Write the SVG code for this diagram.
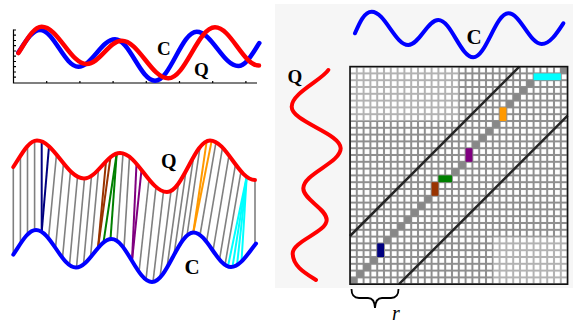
<svg xmlns="http://www.w3.org/2000/svg" width="574" height="325" viewBox="0 0 574 325">
<style>
.lbl{font-family:"Liberation Serif","Times New Roman",serif;font-weight:bold;fill:#000}
.red{fill:none;stroke:#ff0000;stroke-linecap:round;stroke-linejoin:round}
.blue{fill:none;stroke:#0000ff;stroke-linecap:round;stroke-linejoin:round}
.g{stroke:#808080;stroke-width:1.6}
.cl{stroke-width:2}
.cell{fill:#888}
</style>
<defs>
<pattern id="gd" x="350" y="66.6" width="6.8" height="6.8" patternUnits="userSpaceOnUse"><rect width="6.8" height="6.8" fill="#8e8e8e"/><rect x="1" y="1" width="4.8" height="4.8" fill="#fff"/></pattern>
<pattern id="gl" x="350" y="66.6" width="6.8" height="6.8" patternUnits="userSpaceOnUse"><rect width="6.8" height="6.8" fill="#b2b2b2"/><rect x="1" y="1" width="4.8" height="4.8" fill="#fff"/></pattern>
</defs>
<rect width="574" height="325" fill="#fff"/>

<g id="overlay-plot">
<g stroke="#000" stroke-width="1.2" fill="none">
<path d="M13.5,29.5 V83 H257"/>
<path d="M13.5,30H16M13.5,35.2H16M13.5,40.5H16M13.5,45.7H16M13.5,51H16M13.5,56.2H16M13.5,61.5H16M13.5,66.7H16M13.5,72H16M13.5,77.2H16"/>
<path d="M46.7,83V81M79.9,83V81M113.1,83V81M146.3,83V81M179.5,83V81M212.7,83V81M245.9,83V81"/>
</g>
<path class="blue" stroke-width="4.5" d="M18.3,52.6 C25.2,42.2 32,30 40,30 C53.9,30 64.4,66.7 78.3,66.7 C91.7,66.7 101.6,39.3 115,39.3 C129.6,39.3 140.4,80.7 155,80.7 C170.2,80.7 181.5,31.7 196.7,31.7 C211.8,31.7 223.2,66 238.3,66 C246,66 252.5,53.4 259.3,43.1"/>
<path class="red" stroke-width="4.5" d="M18.4,53.1 C25.9,41.6 33.1,26.7 41.7,26.7 C58.1,26.7 70.3,64 86.7,64 C99.4,64 109,40.7 121.7,40.7 C138.7,40.7 151.3,78.3 168.3,78.3 C185.3,78.3 198,27.3 215,27.3 C231,27.3 243,65.5 259,65.5"/>
<text class="lbl" x="157" y="55" font-size="19">C</text>
<text class="lbl" x="194" y="76" font-size="19">Q</text>
</g>

<g id="alignment">
<g id="connectors">
<g class="g">
<line x1="13.3" y1="254.7" x2="13.3" y2="167.1"/>
<line x1="20.4" y1="243.8" x2="20.4" y2="155.9"/>
<line x1="27.5" y1="234.5" x2="27.5" y2="146.1"/>
<line x1="34.6" y1="230.1" x2="34.6" y2="140.9"/>
<line x1="48.5" y1="238.3" x2="56.5" y2="154.5"/>
<line x1="55.5" y1="248" x2="63.5" y2="163.3"/>
<line x1="62.5" y1="257.9" x2="70.5" y2="171.3"/>
<line x1="69.5" y1="265.1" x2="77.5" y2="176.8"/>
<line x1="76.5" y1="267.5" x2="84.5" y2="178.5"/>
<line x1="83.5" y1="264.5" x2="91.5" y2="175.9"/>
<line x1="90.5" y1="257.3" x2="98.5" y2="169.6"/>
<line x1="117" y1="240.9" x2="123" y2="153.4"/>
<line x1="124" y1="248.4" x2="129.5" y2="156.8"/>
<line x1="139" y1="272" x2="149" y2="179.5"/>
<line x1="146" y1="279.7" x2="156" y2="186.9"/>
<line x1="153" y1="281.9" x2="163.5" y2="191.5"/>
<line x1="160" y1="277.6" x2="171" y2="190.9"/>
<line x1="167" y1="267.7" x2="178.5" y2="183.4"/>
<line x1="174" y1="254.9" x2="186" y2="170.9"/>
<line x1="181" y1="242.7" x2="193.5" y2="157.1"/>
<line x1="187" y1="235.5" x2="200" y2="147.2"/>
<line x1="200" y1="235" x2="216" y2="142.2"/>
<line x1="206.5" y1="241.8" x2="222.5" y2="147.6"/>
<line x1="213" y1="250.8" x2="229" y2="155.4"/>
<line x1="219.5" y1="259.6" x2="235.5" y2="164.4"/>
<line x1="225" y1="264.9" x2="241" y2="171.3"/>
<line x1="255" y1="244.7" x2="255" y2="180"/>
</g>
<g class="cl" stroke="#000080"><line x1="41.7" y1="231.8" x2="41.7" y2="141.4"/><line x1="41.7" y1="231.8" x2="49" y2="146.3"/></g>
<g class="cl" stroke="#993300"><line x1="98" y1="248" x2="106" y2="161.4"/><line x1="98" y1="248" x2="110.5" y2="157.1"/></g>
<g class="cl" stroke="#008000"><line x1="103.5" y1="242.4" x2="116.7" y2="153.5"/><line x1="110.5" y1="239.1" x2="116.7" y2="153.5"/></g>
<g class="cl" stroke="#800080"><line x1="132" y1="260.9" x2="136.5" y2="163.7"/><line x1="132" y1="260.9" x2="141.5" y2="169.9"/></g>
<g class="cl" stroke="#ff9900"><line x1="193.3" y1="232.5" x2="206.7" y2="141.2"/><line x1="193.3" y1="232.5" x2="211.7" y2="140.6"/></g>
<g class="cl" stroke="#00ffff"><line x1="228" y1="266.3" x2="246.7" y2="176.7"/><line x1="232.5" y1="266.9" x2="246.7" y2="176.7"/><line x1="237" y1="265.1" x2="246.7" y2="176.7"/><line x1="241.5" y1="261.5" x2="246.7" y2="176.7"/></g>
</g>
<path id="q-mid" class="red" stroke-width="4" d="M13.3,167 C21,155.5 28.3,140.5 37,140.5 C54.1,140.5 66.9,178.5 84,178.5 C97.1,178.5 106.9,153 120,153 C137.1,153 149.9,192 167,192 C182.7,192 194.3,140.5 210,140.5 C226.4,140.5 238.6,180 255,180"/>
<path id="c-mid" class="blue" stroke-width="4" d="M13.3,254.6 C20.7,243.7 27.7,230 36,230 C50.6,230 61.4,267.5 76,267.5 C88.9,267.5 98.6,239 111.5,239 C126.2,239 137.3,282 152,282 C167.1,282 178.4,232.5 193.5,232.5 C207.2,232.5 217.3,267 231,267 C240.2,267 247.9,253.5 256,243.5"/>
<text class="lbl" x="161" y="168" font-size="20">Q</text>
<text class="lbl" x="184.5" y="273.5" font-size="21">C</text>
</g>

<g id="matrix-panel">
<rect x="275" y="4" width="298" height="284" fill="#f6f6f6"/>
<path id="c-top" class="blue" stroke-width="4" d="M355,33.3 C359,24 364,11.7 371.7,11.7 C385,11.7 395,45 408.3,45 C419.2,45 427.4,20 438.3,20 C451,20 460.6,57.3 473.3,57.3 C486,57.3 495.6,13.3 508.3,13.3 C520.5,13.3 529.5,44 541.7,44 C550,44 557,33 563.3,23.3"/>
<path id="q-left" class="red" stroke-width="4" d="M328.3,70 C322,80 291.7,93 291.7,106.7 C291.7,121.8 340.7,133.2 340.7,148.3 C340.7,162.9 303.3,173.7 303.3,188.3 C303.3,199.8 326.7,208.5 326.7,220 C326.7,232.1 292.7,241.2 292.7,253.3 C292.7,266 305,273 316,280"/>
<text class="lbl" x="466.5" y="43.5" font-size="21">C</text>
<text class="lbl" x="287.5" y="83" font-size="19">Q</text>
<g id="grid">
<rect x="350" y="66.6" width="217.6" height="217.6" fill="url(#gd)"/>
<rect x="350" y="66.6" width="108.8" height="54.4" fill="url(#gl)"/>
<rect x="492.8" y="236.6" width="74.8" height="47.6" fill="url(#gl)"/>
<g class="cell">
<rect x="350" y="277.4" width="6.8" height="6.8"/>
<rect x="356.8" y="270.6" width="6.8" height="6.8"/>
<rect x="363.6" y="263.8" width="6.8" height="6.8"/>
<rect x="370.4" y="257" width="6.8" height="6.8"/>
<rect x="384" y="236.6" width="6.8" height="6.8"/>
<rect x="390.8" y="229.8" width="6.8" height="6.8"/>
<rect x="397.6" y="223" width="6.8" height="6.8"/>
<rect x="404.4" y="216.2" width="6.8" height="6.8"/>
<rect x="411.2" y="209.4" width="6.8" height="6.8"/>
<rect x="418" y="202.6" width="6.8" height="6.8"/>
<rect x="424.8" y="195.8" width="6.8" height="6.8"/>
<rect x="452" y="168.6" width="6.8" height="6.8"/>
<rect x="458.8" y="161.8" width="6.8" height="6.8"/>
<rect x="472.4" y="141.4" width="6.8" height="6.8"/>
<rect x="479.2" y="134.6" width="6.8" height="6.8"/>
<rect x="486" y="127.8" width="6.8" height="6.8"/>
<rect x="492.8" y="121" width="6.8" height="6.8"/>
<rect x="506.4" y="100.6" width="6.8" height="6.8"/>
<rect x="513.2" y="93.8" width="6.8" height="6.8"/>
<rect x="520" y="87" width="6.8" height="6.8"/>
<rect x="526.8" y="80.2" width="6.8" height="6.8"/>
<rect x="560.8" y="66.6" width="6.8" height="6.8"/>
</g>
<rect x="377.2" y="243.4" width="6.8" height="13.6" fill="#000080"/>
<rect x="431.6" y="182.2" width="6.8" height="13.6" fill="#993300"/>
<rect x="438.4" y="175.4" width="13.6" height="6.8" fill="#008000"/>
<rect x="465.6" y="148.2" width="6.8" height="13.6" fill="#800080"/>
<rect x="499.6" y="107.4" width="6.8" height="13.6" fill="#ff9900"/>
<rect x="533.6" y="73.4" width="27.2" height="6.8" fill="#00ffff"/>
<g stroke="#262626" stroke-width="2.5">
<line x1="350" y1="236" x2="519.4" y2="66.6"/>
<line x1="399" y1="284.2" x2="567.6" y2="115.6"/>
</g>
<rect x="350" y="66.6" width="217.6" height="217.6" fill="none" stroke="#111" stroke-width="1.6"/>
</g>
<path d="M351.5,289 Q351.5,298 359,298 L368,298 Q374.5,298 375,308 Q375.5,298 382,298 L391,298 Q398.5,298 398.5,289" fill="none" stroke="#000" stroke-width="1.8"/>
<text x="392" y="320" font-size="20" font-style="italic" font-family="'Liberation Serif','Times New Roman',serif">r</text>
</g>
</svg>
